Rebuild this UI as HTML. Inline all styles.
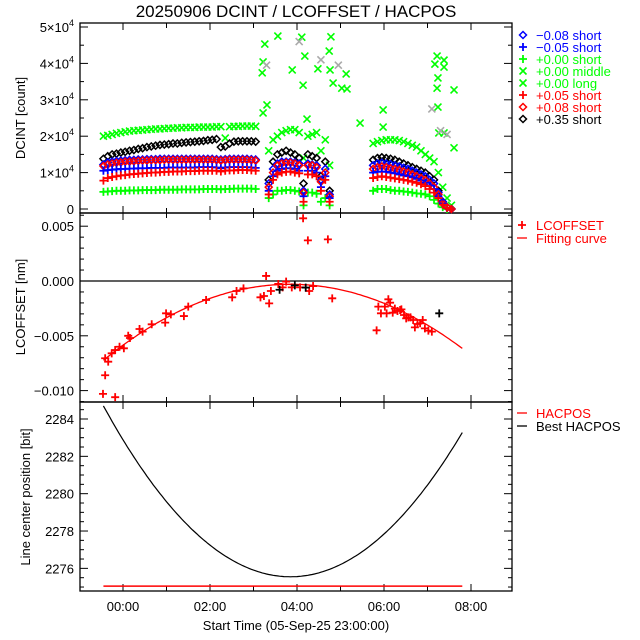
<!DOCTYPE html>
<html><head><meta charset="utf-8"><style>
html,body{margin:0;padding:0;background:#fff;}
svg{display:block;font-family:"Liberation Sans","DejaVu Sans",sans-serif;}
</style></head><body>
<svg id="chart" width="640" height="640" viewBox="0 0 640 640" xmlns="http://www.w3.org/2000/svg">
<rect width="640" height="640" fill="#fff"/>
<text x="296" y="17" font-size="17" text-anchor="middle">20250906 DCINT / LCOFFSET / HACPOS</text>
<g id="axes"></g>
<g id="marks"></g>
<text transform="translate(25,118) rotate(-90)" font-size="13" text-anchor="middle">DCINT [count]</text>
<text transform="translate(25,307) rotate(-90)" font-size="13" text-anchor="middle">LCOFFSET [nm]</text>
<text transform="translate(30,497) rotate(-90)" font-size="13" text-anchor="middle">Line center position [bit]</text>
<text x="296" y="630" font-size="13" text-anchor="middle">Start Time (05-Sep-25 23:00:00)</text>
<g id="legend"></g>
</svg>
<script>
// ---- data ----
const xTickLabels = ["00:00","02:00","04:00","06:00","08:00"];
const xTickHours = [0,2,4,6,8];
const dcTickVals = [0,1,2,3,4,5];
const lcTickVals = [0.005,0.000,-0.005,-0.010];
const lcTickLabels = ["0.005","0.000","\u22120.005","\u22120.010"];
const hpTickVals = [2276,2278,2280,2282,2284];

const seg1Start = -0.45, seg1Step = 0.1;
const s1_gU = [2.0,2.02,2.05,2.08,2.1,2.12,2.14,2.15,2.16,2.17,2.18,2.19,2.2,2.2,2.21,2.22,2.22,2.23,2.23,2.24,2.24,2.24,2.25,2.25,2.25,2.25,2.26,2.26,1.95,2.26,2.27,2.27,2.28,2.28,2.28,2.27];
const s1_bk = [1.38,1.45,1.5,1.52,1.55,1.57,1.6,1.62,1.65,1.67,1.7,1.72,1.74,1.76,1.77,1.78,1.8,1.8,1.82,1.83,1.84,1.85,1.86,1.87,1.89,1.9,1.92,1.7,1.72,1.8,1.85,1.86,1.86,1.86,1.86,1.85];
const s1_bd = [1.22,1.28,1.3,1.32,1.33,1.34,1.35,1.35,1.36,1.36,1.37,1.37,1.37,1.38,1.38,1.38,1.38,1.38,1.38,1.38,1.38,1.38,1.38,1.38,1.38,1.38,1.37,1.36,1.37,1.38,1.38,1.38,1.38,1.38,1.37,1.36];
const s1_rd = [1.18,1.22,1.25,1.27,1.28,1.3,1.3,1.31,1.32,1.33,1.33,1.34,1.34,1.34,1.35,1.35,1.35,1.35,1.35,1.35,1.35,1.35,1.35,1.35,1.35,1.35,1.34,1.33,1.34,1.35,1.35,1.35,1.35,1.35,1.34,1.33];
const s1_bp = [1.05,1.07,1.08,1.09,1.1,1.1,1.11,1.11,1.12,1.12,1.12,1.13,1.13,1.13,1.13,1.14,1.14,1.14,1.14,1.14,1.14,1.14,1.15,1.15,1.15,1.15,1.14,1.12,1.14,1.15,1.15,1.15,1.15,1.15,1.14,1.13];
const s1_rp = [0.78,0.85,0.88,0.9,0.92,0.93,0.95,0.96,0.97,0.98,0.99,1.0,1.0,1.01,1.02,1.02,1.03,1.03,1.03,1.04,1.04,1.04,1.05,1.05,1.05,1.05,1.05,1.03,1.05,1.06,1.06,1.07,1.07,1.07,1.06,1.05];
const s1_gL = [0.47,0.48,0.49,0.5,0.5,0.5,0.51,0.51,0.51,0.52,0.52,0.52,0.52,0.53,0.53,0.53,0.53,0.53,0.54,0.54,0.54,0.54,0.54,0.55,0.55,0.55,0.55,0.54,0.55,0.55,0.56,0.56,0.56,0.56,0.56,0.55];

const seg2Start = 3.35, seg2Step = 0.1;
const s2_gU = [1.6,1.9,2.0,2.1,2.15,2.18,2.18,2.1,1.4,2.0,2.05,2.1,1.6,1.9,1.2];
const s2_bk = [0.8,1.3,1.5,1.55,1.6,1.55,1.5,1.4,0.7,1.5,1.45,1.4,0.9,1.3,0.5];
const s2_bd = [0.7,1.1,1.25,1.3,1.3,1.3,1.28,1.25,0.5,1.25,1.22,1.2,0.8,1.1,0.4];
const s2_rd = [0.6,1.0,1.2,1.25,1.27,1.27,1.25,1.2,0.45,1.2,1.2,1.15,0.75,1.0,0.35];
const s2_bp = [0.5,0.9,1.05,1.1,1.12,1.12,1.1,1.05,0.35,1.05,1.05,1.0,0.6,0.9,0.3];
const s2_rp = [0.4,0.8,0.95,1.0,1.02,1.03,1.0,0.98,0.2,0.95,0.95,0.9,0.5,0.8,0.2];
const s2_gL = [0.3,0.4,0.5,0.5,0.52,0.52,0.5,0.48,0.1,0.45,0.45,0.42,0.2,0.3,0.1];

const seg3Start = 5.75, seg3Step = 0.1;
const s3_gU = [1.8,1.85,1.88,1.9,1.9,1.9,1.88,1.85,1.8,1.75,1.7,1.6,1.5,1.4,1.3,1.0,0.6,0.3,0.1];
const s3_bk = [1.35,1.4,1.42,1.4,1.38,1.35,1.3,1.25,1.2,1.15,1.1,1.05,1.0,0.9,0.8,0.5,0.2,0.05,0.0];
const s3_bd = [1.2,1.25,1.27,1.25,1.23,1.2,1.17,1.13,1.1,1.05,1.0,0.95,0.9,0.8,0.7,0.45,0.2,0.05,0];
const s3_rd = [1.1,1.15,1.17,1.15,1.12,1.1,1.07,1.03,1.0,0.95,0.9,0.85,0.8,0.7,0.6,0.4,0.15,0.05,0];
const s3_bp = [1.0,1.02,1.03,1.02,1.0,0.98,0.95,0.92,0.9,0.87,0.83,0.78,0.72,0.65,0.55,0.35,0.15,0.03,0];
const s3_rp = [0.85,0.88,0.9,0.88,0.86,0.84,0.82,0.8,0.78,0.75,0.72,0.68,0.63,0.55,0.45,0.3,0.12,0.03,0];
const s3_gL = [0.5,0.55,0.55,0.55,0.52,0.5,0.5,0.48,0.47,0.45,0.43,0.42,0.4,0.35,0.25,0.15,0.05,0,0];

const scatterT = [3.56,3.26,3.22,3.2,3.31,3.22,4.11,4.18,3.89,4.14,4.23,4.48,4.78,4.74,4.76,4.83,5.13,5.03,5.15,5.45,5.98,5.98,7.22,7.38,7.17,7.38,7.24,7.22,7.61,7.24,7.26,7.38,7.61];
const scatterV = [4.75,4.53,4.04,3.74,2.86,2.64,4.72,4.2,3.82,3.4,2.47,3.85,4.73,4.34,3.82,3.46,3.71,3.32,3.3,2.36,2.72,2.25,4.2,4.09,3.98,3.9,3.6,3.32,3.27,2.8,2.09,2.09,1.68];
const grayT = [3.3,4.05,4.55,4.95,7.1,7.3,7.45];
const grayV = [3.95,4.6,4.1,3.95,2.75,2.15,2.05];

const lcT = [-0.46,-0.41,-0.18,-0.41,-0.34,-0.26,-0.18,-0.08,0.02,0.12,0.16,0.38,0.45,0.66,0.97,0.99,1.10,1.40,1.50,1.91,2.51,2.61,2.77,3.16,3.24,3.36,3.29,3.40,3.57,3.67,3.75,3.88,4.07,4.28,4.37,4.81,5.83,5.87,5.93,6.02,6.06,6.10,6.14,6.20,6.25,6.31,6.37,6.40,6.46,6.51,6.56,6.61,6.67,6.71,6.77,6.83,6.89,6.94,7.02,7.10,4.14,4.25,4.71];
const lcV = [-0.0103,-0.0086,-0.0106,-0.00705,-0.00736,-0.0066,-0.0063,-0.0060,-0.00614,-0.0050,-0.0052,-0.00438,-0.00462,-0.00395,-0.0038,-0.00295,-0.00304,-0.0032,-0.00234,-0.00173,-0.00149,-0.00091,-0.00067,-0.00149,-0.00137,-0.00204,0.00046,-0.00091,-0.00027,-0.00058,-0.00006,-0.00058,-0.00058,-0.00091,-0.00046,-0.00158,-0.0045,-0.00234,-0.00295,-0.00234,-0.00295,-0.00167,-0.00198,-0.00289,-0.00252,-0.00274,-0.00265,-0.00259,-0.0031,-0.00341,-0.00332,-0.00332,-0.00356,-0.00423,-0.00392,-0.00386,-0.00356,-0.00432,-0.00453,-0.00462,0.00572,0.00371,0.0038];
const lcBlackT = [3.6,3.95,4.2,7.27];
const lcBlackV = [-0.0008,-0.0004,-0.0006,-0.00295];
const fitCoef = [-0.0003, 3.85, -0.000375];
const hacposBest = [2275.55, 3.85, 0.495];
const hacposVal = 2275.05;
const fitRange = [-0.45, 7.8];

// ---- scales ----
const L=80,R=512;
const xs = h => 123 + h*43.5;
const yDc = v => 209 - v*36.4;
const yLc = v => 281 - v*10960;
const yHp = v => 419 + (2284 - v)*18.67;
const panels = [[23,213],[213,402],[402,591]];

const NS="http://www.w3.org/2000/svg";
function el(tag, attrs, parent){const e=document.createElementNS(NS,tag);for(const k in attrs)e.setAttribute(k,attrs[k]);parent.appendChild(e);return e;}
const axes=document.getElementById('axes'), marks=document.getElementById('marks'), leg=document.getElementById('legend');

panels.forEach((p,i)=>{
  const r=el('rect',{x:L,y:p[0],width:R-L,height:p[1]-p[0],fill:'none',stroke:'#000','stroke-width':1.3},axes);
  
  
  for(let h=-1;h<=9;h++){
    const x=xs(h); if(x<L||x>R) continue;
    const len = (h%2===0)?7:5;
    el('line',{x1:x,x2:x,y1:p[1],y2:p[1]-len,stroke:'#000'},axes);
    el('line',{x1:x,x2:x,y1:p[0],y2:p[0]+len,stroke:'#000'},axes);
  }
});
function yTicks(scale,lo,hi,step,major,top,bot){
  for(let v=lo;v<=hi+1e-9;v+=step){
    const y=scale(v); if(y<top-0.5||y>bot+0.5) continue;
    const isMaj=Math.abs(v/major-Math.round(v/major))<1e-6;
    const len=isMaj?8:4;
    el('line',{x1:L,x2:L+len,y1:y,y2:y,stroke:'#000'},axes);
    el('line',{x1:R,x2:R-len,y1:y,y2:y,stroke:'#000'},axes);
  }
}
yTicks(yDc,0,5,0.5,1,23,213);
yTicks(yLc,-0.011,0.007,0.001,0.005,213,402);
yTicks(yHp,2275,2285,0.5,2,402,591);

dcTickVals.forEach(v=>{
  const t=el('text',{x:74,y:yDc(v)+5,'font-size':13,'text-anchor':'end'},axes);
  
  
  if(v===0){t.textContent='0';}
  else{t.textContent=v+'\u00d710';const s=el('tspan',{'font-size':9,dy:-6},t);s.textContent='4';}
});
lcTickVals.forEach((v,i)=>{
  const t=el('text',{x:74,y:yLc(v)+5,'font-size':13,'text-anchor':'end'},axes);
  
  
  t.textContent=lcTickLabels[i];
});
hpTickVals.forEach(v=>{
  const t=el('text',{x:74,y:yHp(v)+5,'font-size':13,'text-anchor':'end'},axes);
  
  
  t.textContent=v;
});
xTickHours.forEach((h,i)=>{
  const t=el('text',{x:xs(h),y:611,'font-size':13,'text-anchor':'middle'},axes);
  
  
  t.textContent=xTickLabels[i];
});

function marker(type,x,y,color,g){
  const s=3.5;
  if(type==='d') el('path',{d:`M${x} ${y-s}L${x+s} ${y}L${x} ${y+s}L${x-s} ${y}Z`,fill:'none',stroke:color,'stroke-width':1.5},g);
  else if(type==='p') el('path',{d:`M${x-4} ${y}H${x+4}M${x} ${y-4}V${y+4}`,stroke:color,'stroke-width':1.8},g);
  else el('path',{d:`M${x-3.5} ${y-3.5}L${x+3.5} ${y+3.5}M${x-3.5} ${y+3.5}L${x+3.5} ${y-3.5}`,stroke:color,'stroke-width':1.6},g);
}
function series(name,type,color,arrs){
  const g=el('g',{},marks);
  
  
  arrs.forEach(([start,step,vals])=>vals.forEach((v,i)=>marker(type,xs(start+i*step),yDc(v),color,g)));
}
series('series-plus0.00-middle','x','#00ff00',[[seg1Start,seg1Step,s1_gU],[seg2Start,seg2Step,s2_gU],[seg3Start,seg3Step,s3_gU]]);
series('series-plus0.00-short','p','#00ff00',[[seg1Start,seg1Step,s1_gL],[seg2Start,seg2Step,s2_gL],[seg3Start,seg3Step,s3_gL]]);
series('series-plus0.35-short','d','#000000',[[seg1Start,seg1Step,s1_bk],[seg2Start,seg2Step,s2_bk],[seg3Start,seg3Step,s3_bk]]);
series('series-minus0.08-short','d','#0000ff',[[seg1Start,seg1Step,s1_bd],[seg2Start,seg2Step,s2_bd],[seg3Start,seg3Step,s3_bd]]);
series('series-plus0.08-short','d','#ff0000',[[seg1Start,seg1Step,s1_rd],[seg2Start,seg2Step,s2_rd],[seg3Start,seg3Step,s3_rd]]);
series('series-minus0.05-short','p','#0000ff',[[seg1Start,seg1Step,s1_bp],[seg2Start,seg2Step,s2_bp],[seg3Start,seg3Step,s3_bp]]);
series('series-plus0.05-short','p','#ff0000',[[seg1Start,seg1Step,s1_rp],[seg2Start,seg2Step,s2_rp],[seg3Start,seg3Step,s3_rp]]);
const gs=el('g',{},marks);


scatterT.forEach((t,i)=>marker('x',xs(t),yDc(scatterV[i]),'#00ff00',gs));
const gg=el('g',{},marks);


grayT.forEach((t,i)=>marker('x',xs(t),yDc(grayV[i]),'#aaaaaa',gg));

const zl=el('line',{x1:L,x2:R,y1:yLc(0),y2:yLc(0),stroke:'#000','stroke-width':1.3},marks);


let d='';
for(let t=fitRange[0];t<=fitRange[1]+1e-9;t+=0.05){const v=fitCoef[0]+fitCoef[2]*(t-fitCoef[1])**2;d+=(d?'L':'M')+xs(t).toFixed(1)+' '+yLc(v).toFixed(1);}
const fc=el('path',{d,fill:'none',stroke:'#ff0000','stroke-width':1.3},marks);


const gl=el('g',{},marks);


lcT.forEach((t,i)=>marker('p',xs(t),yLc(lcV[i]),'#ff0000',gl));
lcBlackT.forEach((t,i)=>marker('p',xs(t),yLc(lcBlackV[i]),'#000000',gl));

d='';
for(let t=fitRange[0];t<=fitRange[1]+1e-9;t+=0.05){const v=hacposBest[0]+hacposBest[2]*(t-hacposBest[1])**2;d+=(d?'L':'M')+xs(t).toFixed(1)+' '+yHp(v).toFixed(1);}
const bh=el('path',{d,fill:'none',stroke:'#000','stroke-width':1.2},marks);


const hl=el('line',{x1:xs(fitRange[0]),x2:xs(fitRange[1]),y1:yHp(hacposVal),y2:yHp(hacposVal),stroke:'#ff0000','stroke-width':1.5},marks);



const legItems=[['d','#0000ff','\u22120.08 short'],['p','#0000ff','\u22120.05 short'],['p','#00ff00','+0.00 short'],['x','#00ff00','+0.00 middle'],['x','#00ff00','+0.00 long'],['p','#ff0000','+0.05 short'],['d','#ff0000','+0.08 short'],['d','#000000','+0.35 short']];
legItems.forEach((it,i)=>{
  const y=35+i*12;
  const g=el('g',{},leg);
  
  
  marker(it[0],523,y,it[1],g);
  const t=el('text',{x:536,y:y+5,'font-size':13,fill:it[1]},g);t.textContent=it[2];
});
function lineLeg(y,color,label,sym){
  const g=el('g',{},leg);
  
  
  if(sym==='p') marker('p',522,y,color,g); else el('line',{x1:517,x2:527,y1:y,y2:y,stroke:color,'stroke-width':1.3},g);
  const t=el('text',{x:536,y:y+5,'font-size':13,fill:color},g);t.textContent=label;
}
lineLeg(225,'#ff0000','LCOFFSET','p');
lineLeg(238,'#ff0000','Fitting curve','l');
lineLeg(413,'#ff0000','HACPOS','l');
lineLeg(426,'#000000','Best HACPOS','l');
</script>
</body></html>
